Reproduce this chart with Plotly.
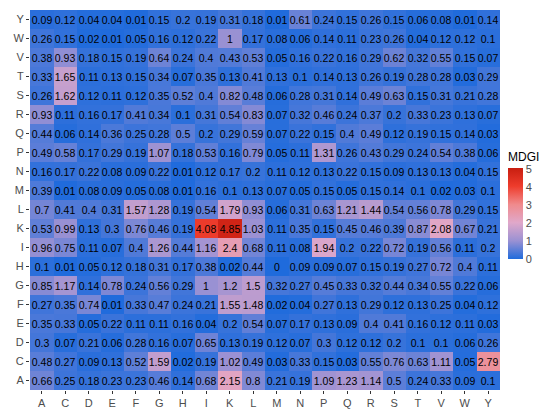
import plotly.graph_objects as go

# amino acids: columns left->right, rows bottom->top
aa_cols = ["A", "C", "D", "E", "F", "G", "H", "I", "K", "L",
           "M", "N", "P", "Q", "R", "S", "T", "V", "W", "Y"]
aa_rows = ["A", "C", "D", "E", "F", "G", "H", "I", "K", "L",
           "M", "N", "P", "Q", "R", "S", "T", "V", "W", "Y"]

# MDGI values, one list per row (bottom row A first)
row_A = [0.66, 0.25, 0.18, 0.23, 0.23, 0.46, 0.14, 0.68, 2.15, 0.8, 0.21, 0.19, 1.09, 1.23, 1.14, 0.5, 0.24, 0.33, 0.09, 0.1]
row_C = [0.48, 0.27, 0.09, 0.13, 0.52, 1.59, 0.02, 0.19, 1.02, 0.49, 0.03, 0.33, 0.15, 0.03, 0.55, 0.76, 0.63, 1.11, 0.05, 2.79]
row_D = [0.3, 0.07, 0.21, 0.06, 0.28, 0.16, 0.07, 0.65, 0.13, 0.19, 0.12, 0.07, 0.3, 0.12, 0.12, 0.2, 0.1, 0.1, 0.06, 0.26]
row_E = [0.35, 0.33, 0.05, 0.22, 0.11, 0.11, 0.16, 0.04, 0.2, 0.54, 0.07, 0.17, 0.13, 0.09, 0.4, 0.41, 0.16, 0.12, 0.11, 0.03]
row_F = [0.27, 0.35, 0.74, 0.01, 0.33, 0.47, 0.24, 0.21, 1.55, 1.48, 0.02, 0.04, 0.27, 0.13, 0.29, 0.12, 0.13, 0.25, 0.04, 0.12]
row_G = [0.85, 1.17, 0.14, 0.78, 0.24, 0.56, 0.29, 1, 1.2, 1.5, 0.32, 0.27, 0.45, 0.33, 0.32, 0.44, 0.34, 0.55, 0.22, 0.06]
row_H = [0.1, 0.01, 0.05, 0.12, 0.18, 0.31, 0.17, 0.38, 0.02, 0.44, 0, 0.09, 0.09, 0.07, 0.15, 0.19, 0.27, 0.72, 0.4, 0.11]
row_I = [0.96, 0.75, 0.11, 0.07, 0.4, 1.26, 0.44, 1.16, 2.4, 0.68, 0.11, 0.08, 1.94, 0.2, 0.22, 0.72, 0.19, 0.56, 0.11, 0.2]
row_K = [0.53, 0.99, 0.13, 0.3, 0.76, 0.46, 0.19, 4.08, 4.85, 1.03, 0.11, 0.35, 0.15, 0.45, 0.46, 0.39, 0.87, 2.08, 0.67, 0.21]
row_L = [0.7, 0.41, 0.4, 0.31, 1.57, 1.28, 0.19, 0.54, 1.79, 0.93, 0.06, 0.31, 0.63, 1.21, 1.44, 0.54, 0.56, 0.78, 0.29, 0.15]
row_M = [0.39, 0.01, 0.08, 0.09, 0.05, 0.08, 0.01, 0.16, 0.1, 0.13, 0.07, 0.05, 0.15, 0.05, 0.15, 0.14, 0.1, 0.02, 0.03, 0.1]
row_N = [0.16, 0.17, 0.22, 0.08, 0.09, 0.22, 0.01, 0.12, 0.17, 0.2, 0.11, 0.12, 0.13, 0.22, 0.15, 0.09, 0.13, 0.13, 0.04, 0.15]
row_P = [0.49, 0.58, 0.17, 0.29, 0.19, 1.07, 0.18, 0.53, 0.16, 0.79, 0.05, 0.11, 1.31, 0.26, 0.43, 0.29, 0.24, 0.54, 0.38, 0.06]
row_Q = [0.44, 0.06, 0.14, 0.36, 0.25, 0.28, 0.5, 0.2, 0.29, 0.59, 0.07, 0.22, 0.15, 0.4, 0.49, 0.12, 0.19, 0.15, 0.14, 0.03]
row_R = [0.93, 0.11, 0.16, 0.17, 0.41, 0.34, 0.1, 0.31, 0.54, 0.83, 0.07, 0.32, 0.46, 0.24, 0.37, 0.2, 0.33, 0.23, 0.13, 0.07]
row_S = [0.26, 1.62, 0.12, 0.11, 0.12, 0.35, 0.52, 0.4, 0.82, 0.48, 0.06, 0.28, 0.31, 0.14, 0.49, 0.63, 0.15, 0.31, 0.21, 0.28]
row_T = [0.33, 1.65, 0.11, 0.13, 0.15, 0.34, 0.07, 0.35, 0.13, 0.41, 0.13, 0.1, 0.14, 0.13, 0.26, 0.19, 0.28, 0.28, 0.03, 0.29]
row_V = [0.38, 0.93, 0.18, 0.15, 0.19, 0.64, 0.24, 0.4, 0.43, 0.53, 0.05, 0.16, 0.22, 0.16, 0.29, 0.62, 0.32, 0.55, 0.15, 0.07]
row_W = [0.26, 0.15, 0.02, 0.01, 0.05, 0.16, 0.12, 0.22, 1, 0.17, 0.08, 0.06, 0.14, 0.11, 0.23, 0.26, 0.04, 0.12, 0.12, 0.1]
row_Y = [0.09, 0.12, 0.04, 0.04, 0.01, 0.15, 0.2, 0.19, 0.31, 0.18, 0.01, 0.61, 0.24, 0.15, 0.26, 0.15, 0.06, 0.08, 0.01, 0.14]

z = [row_A, row_C, row_D, row_E, row_F, row_G, row_H, row_I, row_K, row_L,
     row_M, row_N, row_P, row_Q, row_R, row_S, row_T, row_V, row_W, row_Y]
txt = [[f"{v:g}" for v in r] for r in z]

escala = [
    [0.0, "#1f6bdc"],
    [0.2, "#9a91d3"],
    [0.4, "#e0a8ca"],
    [0.6, "#f08a8c"],
    [0.8, "#ee3c2c"],
    [1.0, "#c81e10"],
]

fig = go.Figure()
fig.add_trace(go.Heatmap(
    x=aa_cols, y=aa_rows, z=z, text=txt, texttemplate="%{text}",
    textfont=dict(size=10.5, color="black", family="Liberation Sans, Arial"),
    colorscale=escala, zmin=0, zmax=5.05,
    colorbar=dict(
        title=dict(text="MDGI", side="top", font=dict(size=12, color="black")),
        thickness=15, lenmode="pixels", len=110,
        x=1, xanchor="left", xpad=8, y=0.49, yanchor="middle",
        ypad=0,
        tickvals=[0, 1, 2, 3, 4, 5], ticks="",
        tickfont=dict(size=11, color="#4d4d4d"),
        outlinewidth=0,
    ),
    xgap=0, ygap=0,
))

fig.update_layout(
    width=550, height=409,
    margin=dict(l=22, r=58, t=2, b=27),
    paper_bgcolor="white", plot_bgcolor="white",
    font=dict(family="Liberation Sans, Arial"),
    xaxis=dict(ticks="outside", ticklen=3, tickcolor="#333", showgrid=False,
               tickfont=dict(size=11, color="#4d4d4d"), zeroline=False),
    yaxis=dict(ticks="outside", ticklen=3, tickcolor="#333", showgrid=False,
               tickfont=dict(size=11, color="#4d4d4d"), zeroline=False),
)

fig.write_html("out.html")
